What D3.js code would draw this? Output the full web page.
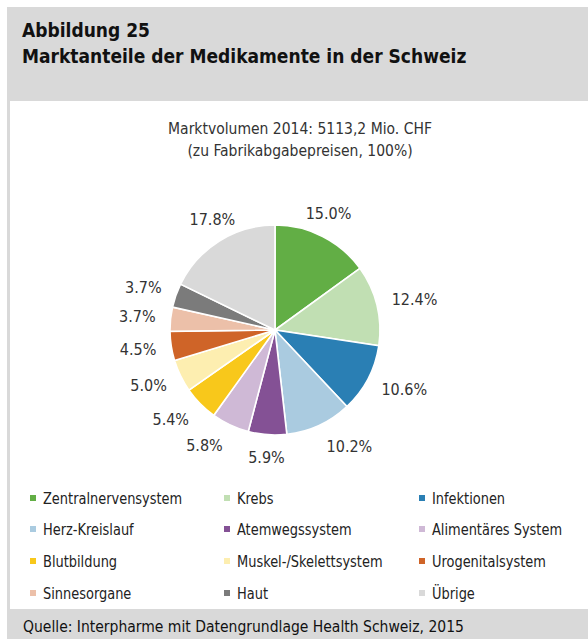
<!DOCTYPE html>
<html><head><meta charset="utf-8">
<script src="https://cdn.jsdelivr.net/npm/d3@7"></script>
<style>
html,body{margin:0;padding:0;background:#fff;}
svg{display:block;}
text{font-family:"Liberation Sans Narrow","DejaVu Sans Condensed","Roboto",sans-serif;}
</style></head><body>
<svg id="c" width="588" height="639"></svg>
<script>
const categories = ["Zentralnervensystem","Krebs","Infektionen","Herz-Kreislauf","Atemwegssystem","Alimentäres System","Blutbildung","Muskel-/Skelettsystem","Urogenitalsystem","Sinnesorgane","Haut","Übrige"];
const shares = [15.0,12.4,10.6,10.2,5.9,5.8,5.4,5.0,4.5,3.7,3.7,17.8];
const colors = ["#62ae45","#c1dfb3","#2a7fb4","#aacbe0","#845195","#cfb9d6","#f8c81b","#fdeeb0","#cf6428","#ecc0a9","#7b7b7b","#d9d9d9"];
const titleLines = ["Abbildung 25","Marktanteile der Medikamente in der Schweiz"];
const subtitleLines = ["Marktvolumen 2014: 5113,2 Mio. CHF","(zu Fabrikabgabepreisen, 100%)"];
const source = "Quelle: Interpharme mit Datengrundlage Health Schweiz, 2015";

const svg = d3.select("#c");
const W = 588, H = 639;
// backgrounds
svg.append("rect").attr("x",7).attr("y",7).attr("width",W-7).attr("height",H-7).attr("fill","#d9d9d9");
svg.append("rect").attr("x",10).attr("y",101).attr("width",W-10).attr("height",508).attr("fill","#fff");

svg.selectAll("text.title").data(titleLines).join("text")
  .attr("x",22).attr("y",(d,i)=>37+i*26)
  .attr("font-size",19).attr("font-weight","bold").attr("fill","#111").text(d=>d);

svg.selectAll("text.sub").data(subtitleLines).join("text")
  .attr("x",300).attr("y",(d,i)=>134+i*22).attr("text-anchor","middle")
  .attr("font-size",15.5).attr("fill","#333").text(d=>d);

const cx=275, cy=330, R=105;
const pie = d3.pie().sort(null).value(d=>d.v);
const data = categories.map((c,i)=>({c, v:shares[i], col:colors[i]}));
const arcs = pie(data);
const arc = d3.arc().innerRadius(0).outerRadius(R);
const g = svg.append("g").attr("transform",`translate(${cx},${cy})`);
g.selectAll("path").data(arcs).join("path")
  .attr("d",arc).attr("fill",d=>d.data.col).attr("stroke","#fff").attr("stroke-width",1.6);

const fmt = d3.format(".1f");
const clamp = v=>Math.max(0,Math.min(1,v));
const lbl = g.selectAll("text.lbl").data(arcs).join("text")
  .attr("font-size",16).attr("fill","#333").attr("text-anchor","middle").attr("dominant-baseline","central")
  .text(d=>fmt(d.data.v)+"%");
lbl.each(function(d){
  const w = this.getComputedTextLength();
  const a = (d.startAngle+d.endAngle)/2;
  const ux = Math.sin(a), uy = -Math.cos(a);
  const rr = 118;
  const ax = Math.abs(ux);
  const gx = uy > 0 ? clamp((ax-0.3)/0.1) : clamp((ax-0.6)/0.2);
  const x = ux*rr + Math.sign(ux)*(w/2+2)*gx;
  const y = uy*rr + uy*10 + (uy < -0.7 ? -2 : 0);
  d3.select(this).attr("x",x).attr("y",y);
});

// legend
const colX = [30,224,419], rowY=[497,528,560,592];
const leg = svg.selectAll("g.leg").data(data).join("g")
  .attr("transform",(d,i)=>`translate(${colX[i%3]},${rowY[Math.floor(i/3)]})`);
leg.append("rect").attr("x",0).attr("y",-2).attr("width",6).attr("height",6).attr("fill",d=>d.col);
leg.append("text").attr("x",13).attr("y",1).attr("dominant-baseline","central")
  .attr("font-size",16).attr("fill","#222").text(d=>d.c)
  .each(function(){
    const w = this.getComputedTextLength();
    d3.select(this).attr("textLength", w*0.9).attr("lengthAdjust","spacingAndGlyphs");
  });

svg.append("text").attr("x",23).attr("y",632).attr("font-size",15.5).attr("fill","#111").text(source);
</script>
</body></html>
